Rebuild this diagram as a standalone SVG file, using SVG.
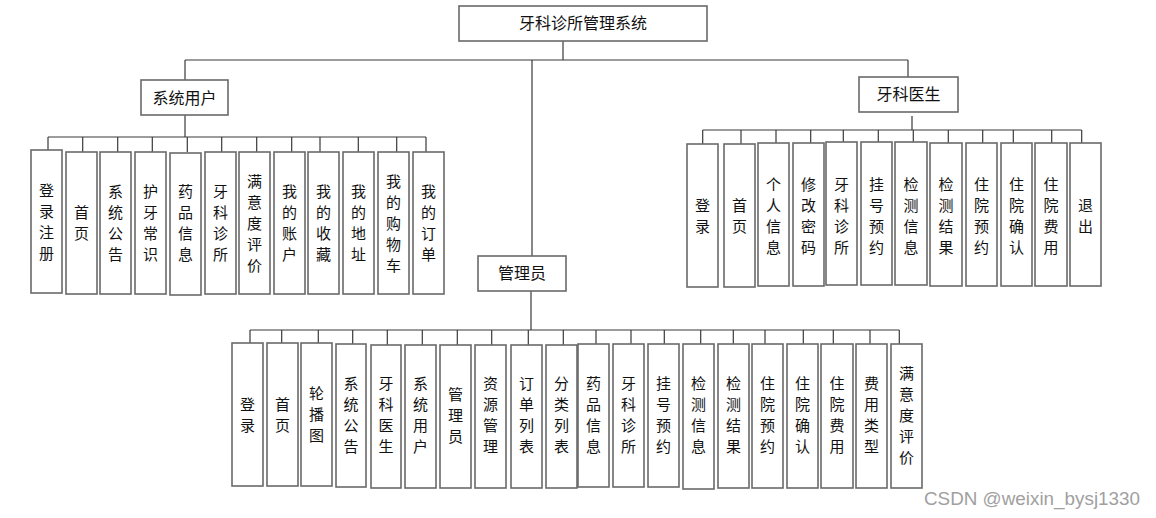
<svg xmlns="http://www.w3.org/2000/svg" width="1156" height="518" viewBox="0 0 1156 518">
<style>
.bx{fill:#fff;stroke:#6a6a6a;stroke-width:1.6}
.t{font-family:"Noto Sans CJK SC","Noto Sans",sans-serif;font-size:16px;fill:#111;text-anchor:middle}
.v{font-family:"Noto Sans CJK SC","Noto Sans",sans-serif;font-size:15px;fill:#111;text-anchor:middle}
.ln{stroke:#3a3a3a;stroke-width:1.2;fill:none}
.wm{font-family:"Liberation Sans",Arial,sans-serif;font-size:19px;fill:#a0a0a0}
</style>
<rect width="1156" height="518" fill="#fff"/>
<g id="connectors">
<path class="ln" d="M563 41V60M185 60H908M185 60V80M908 60V77M532 60V256"/>
<path class="ln" d="M185 115V137M48 137H426M48 137V150M82.7 137V152M117.7 137V152M152.3 137V152M187.3 137V152M221.7 137V152M256.7 137V152M291.7 137V152M320 137V152M358.3 137V152M396.7 137V152M426 137V152"/>
<path class="ln" d="M912 116V130M702.7 130H1081.7M702.7 130V144M741 130V144M776 130V143M810.7 130V143M843.3 130V143M878.3 130V143M913.3 130V143M948.3 130V143M982.7 130V143M1013.3 130V143M1051.7 130V143M1081.7 130V143"/>
<path class="ln" d="M531 291V330M250 330H899.3M250 330V343M281.7 330V343M318.3 330V343M352.7 330V344M387.3 330V345M422.3 330V345M457.3 330V345M491.7 330V345M528.3 330V345M563.3 330V345M596 330V344M631 330V344M664.3 330V344M700.7 330V344M733.3 330V344M765 330V344M803.3 330V344M833.3 330V344M870 330V344M899.3 330V344"/>
</g>
<g id="root"><rect class="bx" x="459" y="6" width="248" height="35"/><text class="t" x="583" y="29">牙科诊所管理系统</text></g>
<g id="sysuser"><rect class="bx" x="141" y="80" width="87" height="35"/><text class="t" x="184.5" y="104">系统用户</text></g>
<g id="doctor"><rect class="bx" x="859" y="77" width="99" height="35"/><text class="t" x="908.5" y="100">牙科医生</text></g>
<g id="admin"><rect class="bx" x="478" y="256" width="88" height="35"/><text class="t" x="522" y="279">管理员</text></g>

<g id="u1"><rect class="bx" x="31" y="150" width="31" height="143"/><text class="v"><tspan x="46.5" y="196">登</tspan><tspan x="46.5" dy="21">录</tspan><tspan x="46.5" dy="21">注</tspan><tspan x="46.5" dy="21">册</tspan></text></g>
<g id="u2"><rect class="bx" x="66" y="152" width="31" height="142"/><text class="v"><tspan x="81.5" y="218">首</tspan><tspan x="81.5" dy="21">页</tspan></text></g>
<g id="u3"><rect class="bx" x="100" y="152" width="31" height="142"/><text class="v"><tspan x="115.5" y="197">系</tspan><tspan x="115.5" dy="21">统</tspan><tspan x="115.5" dy="21">公</tspan><tspan x="115.5" dy="21">告</tspan></text></g>
<g id="u4"><rect class="bx" x="135" y="152" width="31" height="142"/><text class="v"><tspan x="150.5" y="197">护</tspan><tspan x="150.5" dy="21">牙</tspan><tspan x="150.5" dy="21">常</tspan><tspan x="150.5" dy="21">识</tspan></text></g>
<g id="u5"><rect class="bx" x="170" y="153" width="31" height="142"/><text class="v"><tspan x="185.5" y="197">药</tspan><tspan x="185.5" dy="21">品</tspan><tspan x="185.5" dy="21">信</tspan><tspan x="185.5" dy="21">息</tspan></text></g>
<g id="u6"><rect class="bx" x="205" y="152" width="31" height="142"/><text class="v"><tspan x="220.5" y="197">牙</tspan><tspan x="220.5" dy="21">科</tspan><tspan x="220.5" dy="21">诊</tspan><tspan x="220.5" dy="21">所</tspan></text></g>
<g id="u7"><rect class="bx" x="239" y="152" width="31" height="142"/><text class="v"><tspan x="254.5" y="187">满</tspan><tspan x="254.5" dy="21">意</tspan><tspan x="254.5" dy="21">度</tspan><tspan x="254.5" dy="21">评</tspan><tspan x="254.5" dy="21">价</tspan></text></g>
<g id="u8"><rect class="bx" x="274" y="152" width="31" height="142"/><text class="v"><tspan x="289.5" y="197">我</tspan><tspan x="289.5" dy="21">的</tspan><tspan x="289.5" dy="21">账</tspan><tspan x="289.5" dy="21">户</tspan></text></g>
<g id="u9"><rect class="bx" x="308" y="152" width="31" height="142"/><text class="v"><tspan x="323.5" y="197">我</tspan><tspan x="323.5" dy="21">的</tspan><tspan x="323.5" dy="21">收</tspan><tspan x="323.5" dy="21">藏</tspan></text></g>
<g id="u10"><rect class="bx" x="343" y="152" width="31" height="142"/><text class="v"><tspan x="358.5" y="197">我</tspan><tspan x="358.5" dy="21">的</tspan><tspan x="358.5" dy="21">地</tspan><tspan x="358.5" dy="21">址</tspan></text></g>
<g id="u11"><rect class="bx" x="378" y="152" width="31" height="142"/><text class="v"><tspan x="393.5" y="187">我</tspan><tspan x="393.5" dy="21">的</tspan><tspan x="393.5" dy="21">购</tspan><tspan x="393.5" dy="21">物</tspan><tspan x="393.5" dy="21">车</tspan></text></g>
<g id="u12"><rect class="bx" x="413" y="152" width="31" height="142"/><text class="v"><tspan x="428.5" y="197">我</tspan><tspan x="428.5" dy="21">的</tspan><tspan x="428.5" dy="21">订</tspan><tspan x="428.5" dy="21">单</tspan></text></g>

<g id="d1"><rect class="bx" x="687" y="144" width="31" height="143"/><text class="v"><tspan x="702.5" y="211">登</tspan><tspan x="702.5" dy="21">录</tspan></text></g>
<g id="d2"><rect class="bx" x="724" y="144" width="31" height="143"/><text class="v"><tspan x="739.5" y="211">首</tspan><tspan x="739.5" dy="21">页</tspan></text></g>
<g id="d3"><rect class="bx" x="758" y="143" width="31" height="143"/><text class="v"><tspan x="773.5" y="190">个</tspan><tspan x="773.5" dy="21">人</tspan><tspan x="773.5" dy="21">信</tspan><tspan x="773.5" dy="21">息</tspan></text></g>
<g id="d4"><rect class="bx" x="793" y="143" width="31" height="143"/><text class="v"><tspan x="808.5" y="190">修</tspan><tspan x="808.5" dy="21">改</tspan><tspan x="808.5" dy="21">密</tspan><tspan x="808.5" dy="21">码</tspan></text></g>
<g id="d5"><rect class="bx" x="826" y="142" width="31" height="143"/><text class="v"><tspan x="841.5" y="190">牙</tspan><tspan x="841.5" dy="21">科</tspan><tspan x="841.5" dy="21">诊</tspan><tspan x="841.5" dy="21">所</tspan></text></g>
<g id="d6"><rect class="bx" x="861" y="142" width="31" height="143"/><text class="v"><tspan x="876.5" y="190">挂</tspan><tspan x="876.5" dy="21">号</tspan><tspan x="876.5" dy="21">预</tspan><tspan x="876.5" dy="21">约</tspan></text></g>
<g id="d7"><rect class="bx" x="895" y="142" width="32" height="143"/><text class="v"><tspan x="911" y="190">检</tspan><tspan x="911" dy="21">测</tspan><tspan x="911" dy="21">信</tspan><tspan x="911" dy="21">息</tspan></text></g>
<g id="d8"><rect class="bx" x="930" y="143" width="32" height="143"/><text class="v"><tspan x="946" y="190">检</tspan><tspan x="946" dy="21">测</tspan><tspan x="946" dy="21">结</tspan><tspan x="946" dy="21">果</tspan></text></g>
<g id="d9"><rect class="bx" x="966" y="143" width="31" height="143"/><text class="v"><tspan x="981.5" y="190">住</tspan><tspan x="981.5" dy="21">院</tspan><tspan x="981.5" dy="21">预</tspan><tspan x="981.5" dy="21">约</tspan></text></g>
<g id="d10"><rect class="bx" x="1001" y="143" width="31" height="143"/><text class="v"><tspan x="1016.5" y="190">住</tspan><tspan x="1016.5" dy="21">院</tspan><tspan x="1016.5" dy="21">确</tspan><tspan x="1016.5" dy="21">认</tspan></text></g>
<g id="d11"><rect class="bx" x="1035" y="143" width="32" height="143"/><text class="v"><tspan x="1051" y="190">住</tspan><tspan x="1051" dy="21">院</tspan><tspan x="1051" dy="21">费</tspan><tspan x="1051" dy="21">用</tspan></text></g>
<g id="d12"><rect class="bx" x="1070" y="143" width="31" height="143"/><text class="v"><tspan x="1085.5" y="211">退</tspan><tspan x="1085.5" dy="21">出</tspan></text></g>

<g id="a1"><rect class="bx" x="232" y="343" width="31" height="143"/><text class="v"><tspan x="247.5" y="410">登</tspan><tspan x="247.5" dy="21">录</tspan></text></g>
<g id="a2"><rect class="bx" x="267" y="343" width="31" height="143"/><text class="v"><tspan x="282.5" y="410">首</tspan><tspan x="282.5" dy="21">页</tspan></text></g>
<g id="a3"><rect class="bx" x="301" y="343" width="31" height="143"/><text class="v"><tspan x="316.5" y="399">轮</tspan><tspan x="316.5" dy="21">播</tspan><tspan x="316.5" dy="21">图</tspan></text></g>
<g id="a4"><rect class="bx" x="336" y="344" width="30" height="143"/><text class="v"><tspan x="351" y="389">系</tspan><tspan x="351" dy="21">统</tspan><tspan x="351" dy="21">公</tspan><tspan x="351" dy="21">告</tspan></text></g>
<g id="a5"><rect class="bx" x="371" y="345" width="30" height="143"/><text class="v"><tspan x="386" y="389">牙</tspan><tspan x="386" dy="21">科</tspan><tspan x="386" dy="21">医</tspan><tspan x="386" dy="21">生</tspan></text></g>
<g id="a6"><rect class="bx" x="405" y="345" width="31" height="143"/><text class="v"><tspan x="420.5" y="389">系</tspan><tspan x="420.5" dy="21">统</tspan><tspan x="420.5" dy="21">用</tspan><tspan x="420.5" dy="21">户</tspan></text></g>
<g id="a7"><rect class="bx" x="440" y="345" width="31" height="143"/><text class="v"><tspan x="455.5" y="400">管</tspan><tspan x="455.5" dy="21">理</tspan><tspan x="455.5" dy="21">员</tspan></text></g>
<g id="a8"><rect class="bx" x="475" y="345" width="31" height="143"/><text class="v"><tspan x="490.5" y="389">资</tspan><tspan x="490.5" dy="21">源</tspan><tspan x="490.5" dy="21">管</tspan><tspan x="490.5" dy="21">理</tspan></text></g>
<g id="a9"><rect class="bx" x="511" y="345" width="31" height="143"/><text class="v"><tspan x="526.5" y="389">订</tspan><tspan x="526.5" dy="21">单</tspan><tspan x="526.5" dy="21">列</tspan><tspan x="526.5" dy="21">表</tspan></text></g>
<g id="a10"><rect class="bx" x="546" y="345" width="31" height="143"/><text class="v"><tspan x="561.5" y="389">分</tspan><tspan x="561.5" dy="21">类</tspan><tspan x="561.5" dy="21">列</tspan><tspan x="561.5" dy="21">表</tspan></text></g>
<g id="a11"><rect class="bx" x="578" y="344" width="31" height="143"/><text class="v"><tspan x="593.5" y="389">药</tspan><tspan x="593.5" dy="21">品</tspan><tspan x="593.5" dy="21">信</tspan><tspan x="593.5" dy="21">息</tspan></text></g>
<g id="a12"><rect class="bx" x="613" y="344" width="31" height="143"/><text class="v"><tspan x="628.5" y="389">牙</tspan><tspan x="628.5" dy="21">科</tspan><tspan x="628.5" dy="21">诊</tspan><tspan x="628.5" dy="21">所</tspan></text></g>
<g id="a13"><rect class="bx" x="648" y="344" width="31" height="143"/><text class="v"><tspan x="663.5" y="389">挂</tspan><tspan x="663.5" dy="21">号</tspan><tspan x="663.5" dy="21">预</tspan><tspan x="663.5" dy="21">约</tspan></text></g>
<g id="a14"><rect class="bx" x="683" y="344" width="31" height="145"/><text class="v"><tspan x="698.5" y="389">检</tspan><tspan x="698.5" dy="21">测</tspan><tspan x="698.5" dy="21">信</tspan><tspan x="698.5" dy="21">息</tspan></text></g>
<g id="a15"><rect class="bx" x="718" y="344" width="31" height="144"/><text class="v"><tspan x="733.5" y="389">检</tspan><tspan x="733.5" dy="21">测</tspan><tspan x="733.5" dy="21">结</tspan><tspan x="733.5" dy="21">果</tspan></text></g>
<g id="a16"><rect class="bx" x="752" y="344" width="31" height="144"/><text class="v"><tspan x="767.5" y="389">住</tspan><tspan x="767.5" dy="21">院</tspan><tspan x="767.5" dy="21">预</tspan><tspan x="767.5" dy="21">约</tspan></text></g>
<g id="a17"><rect class="bx" x="787" y="344" width="31" height="144"/><text class="v"><tspan x="802.5" y="389">住</tspan><tspan x="802.5" dy="21">院</tspan><tspan x="802.5" dy="21">确</tspan><tspan x="802.5" dy="21">认</tspan></text></g>
<g id="a18"><rect class="bx" x="821" y="344" width="32" height="144"/><text class="v"><tspan x="837" y="389">住</tspan><tspan x="837" dy="21">院</tspan><tspan x="837" dy="21">费</tspan><tspan x="837" dy="21">用</tspan></text></g>
<g id="a19"><rect class="bx" x="856" y="344" width="31" height="144"/><text class="v"><tspan x="871.5" y="389">费</tspan><tspan x="871.5" dy="21">用</tspan><tspan x="871.5" dy="21">类</tspan><tspan x="871.5" dy="21">型</tspan></text></g>
<g id="a20"><rect class="bx" x="891" y="344" width="31" height="144"/><text class="v"><tspan x="906.5" y="379">满</tspan><tspan x="906.5" dy="21">意</tspan><tspan x="906.5" dy="21">度</tspan><tspan x="906.5" dy="21">评</tspan><tspan x="906.5" dy="21">价</tspan></text></g>

<text class="wm" x="924" y="505" textLength="216" lengthAdjust="spacingAndGlyphs">CSDN @weixin_bysj1330</text>
</svg>
